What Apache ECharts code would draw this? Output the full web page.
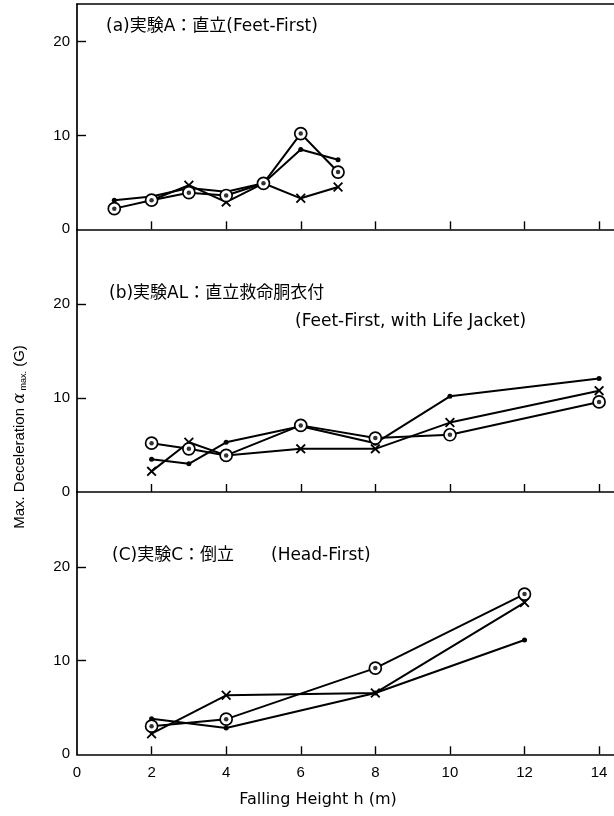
<!DOCTYPE html>
<html><head><meta charset="utf-8">
<script src="https://cdn.jsdelivr.net/npm/echarts@6/dist/echarts.min.js"></script>
<style>html,body{margin:0;padding:0;background:#fff}#c{width:614px;height:816px}</style>
</head><body><div id="c"></div>
<script>
// ---- data ----
const xTicks = [0, 2, 4, 6, 8, 10, 12, 14];
const yTicks = [0, 10, 20];

const heightsA = [1, 2, 3, 4, 5, 6, 7];
const aCircle = [2.2, 3.1, 3.9, 3.6, 4.9, 10.2, 6.1];
const aDot    = [3.1, 3.5, 4.4, 4.0, 4.9, 8.5, 7.4];
const aCross  = [null, 3.1, 4.7, 2.9, 4.9, 3.3, 4.5];

const heightsB = [2, 3, 4, 6, 8, 10, 14];
const bCircle = [5.2, 4.6, 3.9, 7.1, 5.75, 6.1, 9.6];
const bDot    = [3.5, 3.0, 5.3, 7.0, 5.2, 10.2, 12.1];
const bCross  = [2.2, 5.3, 3.9, 4.6, 4.6, 7.4, 10.8];

const heightsC = [2, 4, 8, 12];
const cCircle = [3.0, 3.75, 9.2, 17.1];
const cDot    = [3.8, 2.8, 6.55, 12.2];
const cCross  = [2.2, 6.3, 6.55, 16.2];

const titleA = '(a)実験A：直立(Feet-First)';
const titleB1 = '(b)実験AL：直立救命胴衣付';
const titleB2 = '(Feet-First, with Life Jacket)';
const titleC1 = '(C)実験C：倒立';
const titleC2 = '(Head-First)';
const xName = 'Falling Height h (m)';

// ---- chart ----
const pair = (xs, ys) => xs.map((x, i) => ys[i] == null ? null : [x, ys[i]]).filter(p => p);
const crossPath = 'path://M0,1.3 L1.3,0 L5,3.7 L8.7,0 L10,1.3 L6.3,5 L10,8.7 L8.7,10 L5,6.3 L1.3,10 L0,8.7 L3.7,5 Z';
const FONT = '"Liberation Sans", Arial, sans-serif';
const TFONT = '"DejaVu Sans", "Noto Sans CJK JP", sans-serif';

const grids = [
  {left: 77, top: 4, width: 537, height: 225.3},
  {left: 77, top: 229.3, width: 537, height: 262.7},
  {left: 77, top: 492, width: 537, height: 262.3}
];
const yMax = [24, 28, 28];

const xAxis = [];
const yAxis = [];
for (let i = 0; i < 3; i++) {
  xAxis.push({
    type: 'value', gridIndex: i, min: 0, max: 14.4,
    axisLine: {show: true, lineStyle: {color: '#000', width: 1.7}},
    axisTick: {show: true, inside: true, length: 8, customValues: xTicks.slice(1), lineStyle: {color: '#000', width: 1.4}},
    axisLabel: {show: i === 2, customValues: xTicks, margin: 11, fontSize: 15, color: '#000', fontFamily: FONT},
    splitLine: {show: false}
  });
  yAxis.push({
    type: 'value', gridIndex: i, min: 0, max: yMax[i],
    axisLine: {show: true, lineStyle: {color: '#000', width: 1.7}},
    axisTick: {show: true, inside: true, length: 9, customValues: yTicks.slice(1), lineStyle: {color: '#000', width: 1.4}},
    axisLabel: {customValues: yTicks, margin: 7, fontSize: 15, color: '#000', fontFamily: FONT},
    splitLine: {show: false}
  });
}
// top border of the figure
xAxis.push({
  type: 'value', gridIndex: 0, position: 'top', min: 0, max: 14.4,
  axisLine: {show: true, lineStyle: {color: '#000', width: 1.7}},
  axisTick: {show: false}, axisLabel: {show: false}, splitLine: {show: false}
});

const series = [];
const panels = [
  [heightsA, aCircle, aDot, aCross],
  [heightsB, bCircle, bDot, bCross],
  [heightsC, cCircle, cDot, cCross]
];
panels.forEach((p, i) => {
  const [xs, circ, dot, cross] = p;
  const base = {type: 'line', xAxisIndex: i, yAxisIndex: i, showAllSymbol: true, animation: false,
    lineStyle: {color: '#000', width: 2}, emphasis: {disabled: true}};
  series.push(Object.assign({}, base, {
    data: pair(xs, cross), symbol: crossPath, symbolSize: 10,
    itemStyle: {color: '#000'}, z: 2
  }));
  series.push(Object.assign({}, base, {
    data: pair(xs, dot), symbol: 'circle', symbolSize: 5,
    itemStyle: {color: '#000'}, z: 3
  }));
  series.push(Object.assign({}, base, {
    data: pair(xs, circ), symbol: 'circle', symbolSize: 12,
    itemStyle: {color: '#fff', borderColor: '#000', borderWidth: 1.7}, z: 4
  }));
  series.push({
    type: 'scatter', xAxisIndex: i, yAxisIndex: i, animation: false,
    data: pair(xs, circ), symbol: 'circle', symbolSize: 4.5,
    itemStyle: {color: '#000'}, z: 5, emphasis: {disabled: true}
  });
});

const txt = (text, x, y) => ({
  type: 'text', z: 10,
  style: {text: text, x: x, y: y, font: '17px ' + TFONT, fill: '#000', textVerticalAlign: 'middle', textAlign: 'left'}
});

const graphic = [
  txt(titleA, 106, 27),
  txt(titleB1, 109, 294),
  txt(titleB2, 295, 322),
  txt(titleC1, 112, 556),
  txt(titleC2, 271, 556),
  {type: 'text', z: 10, style: {text: xName, x: 318, y: 800, font: '16px "DejaVu Sans", sans-serif', fill: '#000', textAlign: 'center', textVerticalAlign: 'middle'}},
  {type: 'text', z: 10, x: 20, y: 437, rotation: Math.PI / 2,
    style: {text: '{a|Max. Deceleration }{g|α}{s| max.}{a| (G)}', textAlign: 'center', textVerticalAlign: 'middle', fill: '#000',
      rich: {
        a: {fontSize: 15, fontFamily: FONT, fill: '#000'},
        g: {fontSize: 16, fontFamily: 'DejaVu Serif', fontStyle: 'italic', fill: '#000'},
        s: {fontSize: 9, fontFamily: FONT, fill: '#000', verticalAlign: 'bottom'}
      }}}
];

const chart = echarts.init(document.getElementById('c'), null, {renderer: 'canvas'});
chart.setOption({
  backgroundColor: '#fff',
  animation: false,
  grid: grids,
  xAxis: xAxis,
  yAxis: yAxis,
  series: series,
  graphic: graphic
});
</script>
</body></html>
